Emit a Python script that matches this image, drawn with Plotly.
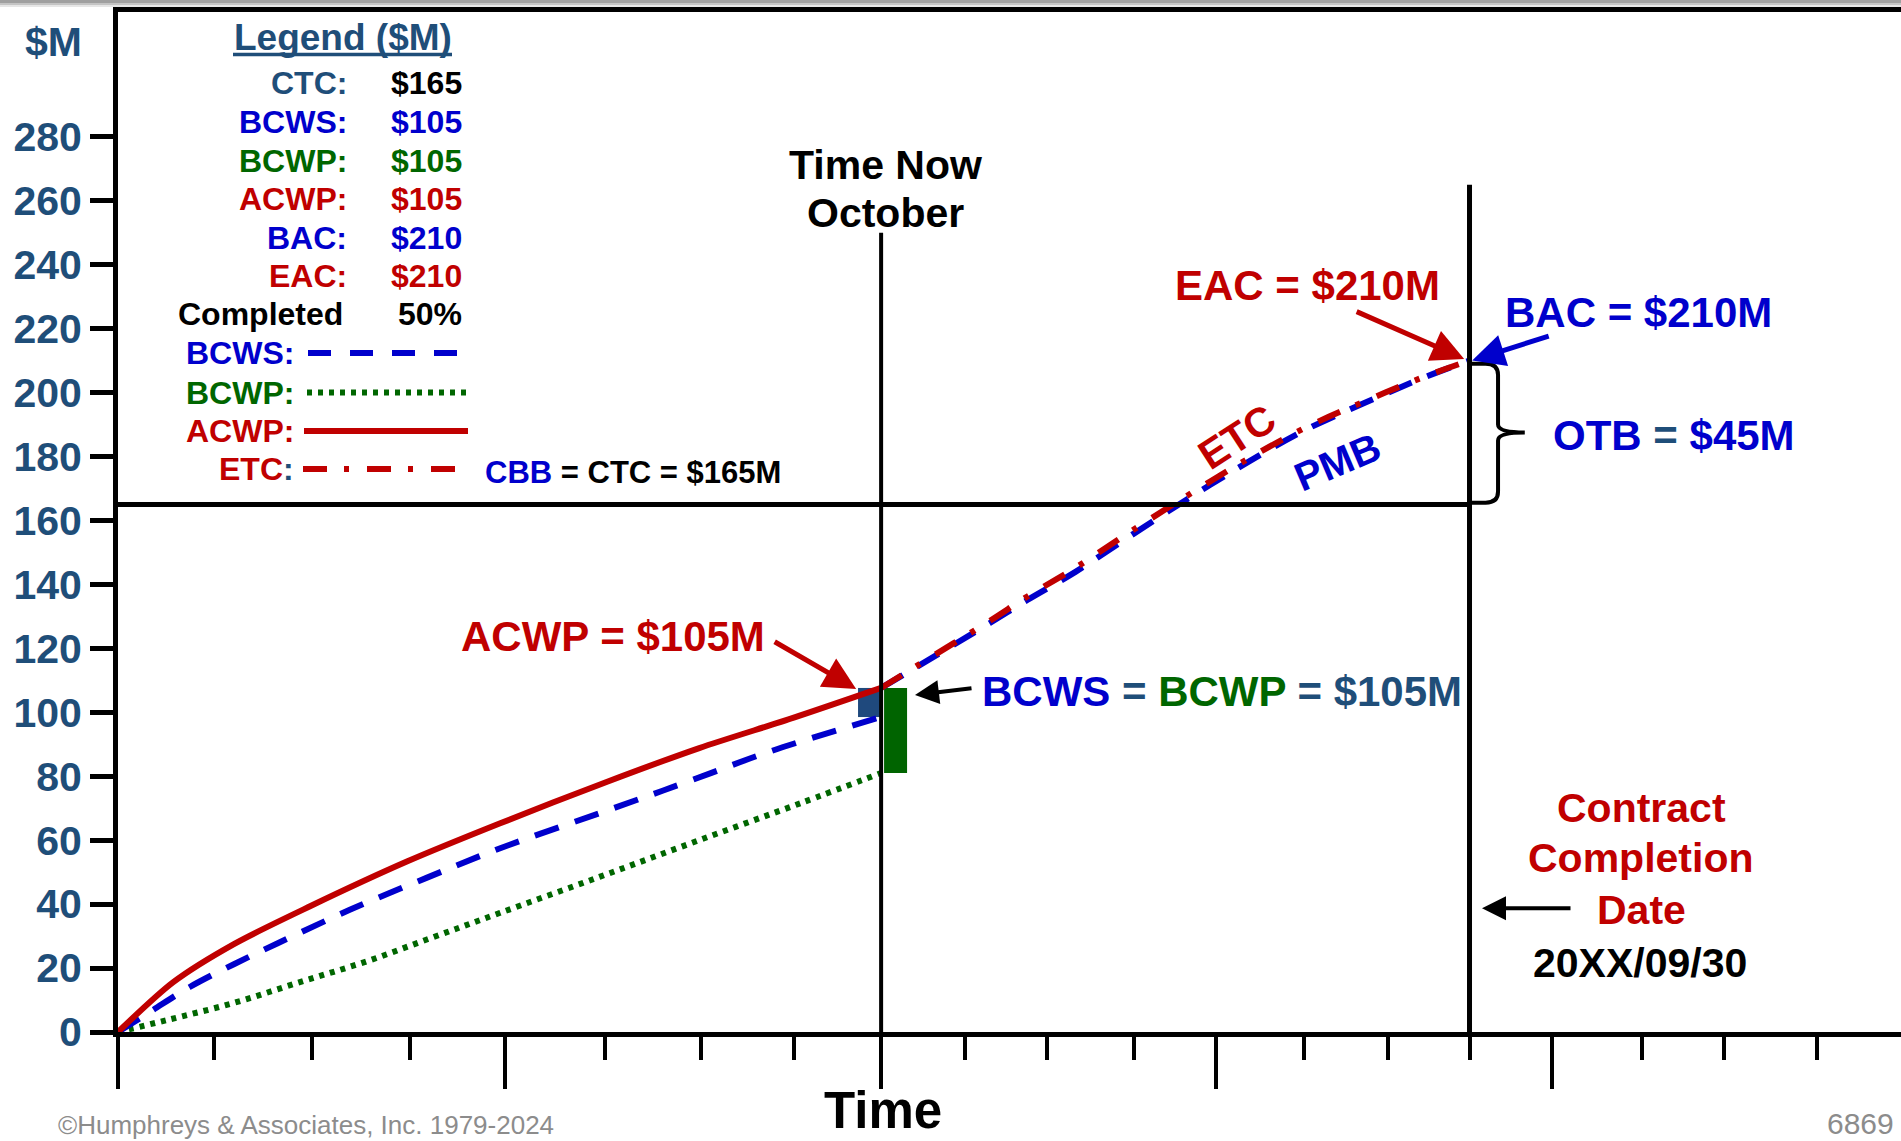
import plotly.graph_objects as go

# ---------------- data ----------------
y_ticks = [0, 20, 40, 60, 80, 100, 120, 140, 160, 180, 200, 220, 240, 260, 280]
time_major_ticks = [0, 21.7, 42.8, 61.6, 80.4]
time_minor_ticks = [5.4, 10.9, 16.4, 27.3, 32.7, 37.9, 47.5, 52.1, 57.0,
                    66.5, 71.2, 75.8, 85.5, 90.1, 95.3]
time_now = 42.8
contract_end = 75.8

acwp_t = [0, 3.1, 6.5, 10.8, 16.2, 21.4, 27.4, 32.6, 37.9, 42.8]
acwp_v = [0, 15.6, 27.5, 39.4, 53.3, 65.2, 78.2, 88.8, 98.3, 107.6]

bcws_t = [0, 1.8, 4.0, 6.5, 8.9, 13.0, 17.3, 21.4, 27.8, 32.1, 36.6, 42.8]
bcws_v = [0, 6.3, 14.0, 21.2, 27.6, 38.2, 48.2, 57.4, 70.0, 78.6, 87.8, 98.5]

bcwp_t = [0, 2.8, 6.5, 10.2, 14.0, 17.7, 21.4, 27.0, 32.6, 38.3, 42.8]
bcwp_v = [0, 3.8, 9.1, 15.6, 22.2, 29.7, 37.2, 48.5, 60.0, 71.6, 81.0]

fc_t = [42.8, 44.8, 48.9, 51.0, 53.7, 56.6, 59.9, 63.3, 66.6, 69.9, 73.3, 75.8]
pmb_v = [107.6, 114.2, 127.9, 135.1, 143.9, 154.5, 166.4, 178.0, 188.3, 196.7, 204.8, 210]
etc_v = [107.6, 114.5, 128.6, 136.2, 145.2, 155.8, 167.5, 179.0, 189.0, 197.2, 205.0, 210]

cbb = 165
bac = 210
eac = 210

legend_labels = ["CTC:", "BCWS:", "BCWP:", "ACWP:", "BAC:", "EAC:"]
legend_values = ["$165", "$105", "$105", "$105", "$210", "$210"]
completed_pct = "50%"

# ---------------- styles ----------------
FONT = "Liberation Sans, Arial, sans-serif"
STEEL = "#1F4E79"
BOX_BLUE = "#1F497D"
BLUE = "#0000CC"
GREEN = "#006600"
BOX_GREEN = "#006400"
RED = "#C00000"
BLACK = "#000000"
legend_label_colors = [STEEL, BLUE, GREEN, RED, BLUE, RED]
legend_value_colors = [BLACK, BLUE, GREEN, RED, BLUE, RED]

W, H = 1901, 1141
ML, MR, MT, MB = 118, 0, 12, 109
PW, PH = W - ML - MR, H - MT - MB


def P(px, py):
    """pixel position on the page -> paper coordinates"""
    return (px - ML) / PW, (H - MB - py) / PH


fig = go.Figure()

# curves
fig.add_trace(go.Scatter(x=bcwp_t, y=bcwp_v, mode="lines", line_shape="spline",
                         line=dict(color=GREEN, width=6, dash="5px,6px")))
fig.add_trace(go.Scatter(x=bcws_t, y=bcws_v, mode="lines", line_shape="spline",
                         line=dict(color=BLUE, width=6, dash="25px,17px")))
fig.add_trace(go.Scatter(x=acwp_t, y=acwp_v, mode="lines", line_shape="spline",
                         line=dict(color=RED, width=6, smoothing=0.8)))
fig.add_trace(go.Scatter(x=fc_t, y=pmb_v, mode="lines", line_shape="spline",
                         line=dict(color=BLUE, width=6, dash="25px,17px")))
fig.add_trace(go.Scatter(x=fc_t, y=etc_v, mode="lines", line_shape="spline",
                         line=dict(color=RED, width=6, dash="24px,17px,5px,18px")))

# variance boxes at time now
acwp_end = acwp_v[-1]
fig.add_trace(go.Bar(x=[time_now - 0.68], y=[acwp_end - bcws_v[-1]], base=[bcws_v[-1]],
                     width=[1.23], marker=dict(color=BOX_BLUE, line=dict(width=0))))
fig.add_trace(go.Bar(x=[time_now + 0.81], y=[acwp_end - bcwp_v[-1]], base=[bcwp_v[-1]],
                     width=[1.29], marker=dict(color=BOX_GREEN, line=dict(width=0))))

shapes = []
# time now and contract completion lines
shapes.append(dict(type="line", xref="x", yref="y", x0=time_now, x1=time_now, y0=0, y1=250,
                   line=dict(color=BLACK, width=4)))
shapes.append(dict(type="line", xref="x", yref="y", x0=contract_end, x1=contract_end, y0=0, y1=265,
                   line=dict(color=BLACK, width=5)))
# CBB line
shapes.append(dict(type="line", xref="x", yref="y", x0=0, x1=contract_end, y0=cbb, y1=cbb,
                   line=dict(color=BLACK, width=5)))
# OTB brace
x0 = contract_end
xv = contract_end + 1.6
xt = contract_end + 3.1
mid = (bac + cbb) / 2
brace = (f"M {x0},{bac - 1} L {x0 + 0.9},{bac - 1} Q {xv},{bac - 1} {xv},{bac - 4.5} "
         f"L {xv},{mid + 2.5} Q {xv},{mid} {xt},{mid} Q {xv},{mid} {xv},{mid - 2.5} "
         f"L {xv},{cbb + 4} Q {xv},{cbb + 0.5} {x0 + 0.9},{cbb + 0.5} L {x0},{cbb + 0.5}")
shapes.append(dict(type="path", xref="x", yref="y", path=brace,
                   line=dict(color=BLACK, width=4)))

# top shadow band
for (a, b, c) in [(0, 3, "#A0A0A0"), (3, 5, "#C4C4C4"), (5, 7, "#E6E6E6")]:
    xa, ya = P(0, a)
    xb, yb = P(W, b)
    shapes.append(dict(type="rect", xref="paper", yref="paper", x0=xa, x1=xb, y0=yb, y1=ya,
                       fillcolor=c, line=dict(width=0), layer="below"))


# legend underline and line samples
def pline(px0, px1, py, color, width, dash="solid"):
    a = P(px0, py)
    b = P(px1, py)
    shapes.append(dict(type="line", xref="paper", yref="paper", x0=a[0], x1=b[0], y0=a[1], y1=b[1],
                       line=dict(color=color, width=width, dash=dash)))


pline(233, 452, 54.5, STEEL, 3.5)
pline(308, 458, 353, BLUE, 6, "23px,19px")
pline(307, 468, 392.5, GREEN, 6, "5px,6px")
pline(304, 468, 431, RED, 6)
pline(303, 460, 469, RED, 6, "24px,17px,5px,18px")

annotations = []


def label(text, px, py, size, color=BLACK, xanchor="center", angle=0, bold=True):
    x, y = P(px, py)
    t = f"<b>{text}</b>" if bold else text
    annotations.append(dict(text=t, x=x, y=y, xref="paper", yref="paper", showarrow=False,
                            xanchor=xanchor, yanchor="middle", textangle=angle, borderpad=0,
                            font=dict(family=FONT, size=size, color=color)))


def arrow(x, y, ax, ay, color, width, size=1.1):
    annotations.append(dict(text="", x=x, y=y, xref="x", yref="y", ax=ax, ay=ay,
                            showarrow=True, arrowhead=2, arrowsize=size, arrowwidth=width,
                            arrowcolor=color, standoff=0))


def span(t, c):
    return f'<span style="color:{c}">{t}</span>'


# axis unit
label("$M", 53, 42, 41, STEEL)
# legend block
label("Legend ($M)", 342.5, 37, 37, STEEL)
row_y = [83, 122.5, 161, 199, 237.5, 276]
for lab, val, lc, vc, ry in zip(legend_labels, legend_values, legend_label_colors,
                                legend_value_colors, row_y):
    label(lab, 348, ry, 32, lc, xanchor="right")
    label(val, 463, ry, 32, vc, xanchor="right")
label("Completed", 177, 314, 32, BLACK, xanchor="left")
label(completed_pct, 463, 314, 32, BLACK, xanchor="right")
label("BCWS:", 295, 353, 32, BLUE, xanchor="right")
label("BCWP:", 295, 392.5, 32, GREEN, xanchor="right")
label("ACWP:", 295, 431, 32, RED, xanchor="right")
label(span("ETC", RED) + span(":", STEEL), 295, 469, 32, RED, xanchor="right")
label(span("CBB", BLUE) + " = CTC = $" + str(cbb) + "M", 484, 472.5, 31, BLACK, xanchor="left")

# chart callouts
label("Time Now", 885.5, 165, 41)
label("October", 885, 213, 41)
label(f"EAC = ${eac}M", 1307, 285, 42, RED)
label(f"BAC = ${bac}M", 1638.5, 313, 42, BLUE)
label(span("OTB", BLUE) + span(" = ", STEEL) + span(f"${bac - cbb}M", BLUE), 1674, 436, 42, BLUE)
label("ACWP = $105M", 612.5, 636, 42, RED)
label(span("BCWS", BLUE) + span(" = ", STEEL) + span("BCWP", GREEN) + span(" = $105M", STEEL),
      1221.5, 691, 42, STEEL)
label("ETC", 1237, 437, 41, RED, angle=-33)
label("PMB", 1337, 462, 40, BLUE, angle=-23)
label("Contract", 1641, 808, 41, RED)
label("Completion", 1640, 858, 41, RED)
label("Date", 1641, 910, 41, RED)
label("20XX/09/30", 1640, 962.5, 41, BLACK)
label("Time", 883, 1110, 51)
label("©Humphreys &amp; Associates, Inc. 1979-2024", 57, 1125, 26, "#8C8C8C", xanchor="left", bold=False)
label("6869", 1895, 1123, 30, "#8C8C8C", xanchor="right", bold=False)

# arrows
arrow(75.5, 210.5, -109, -48, RED, 5, 1.3)
arrow(75.95, 210, 78, -25, BLUE, 5, 1.3)
arrow(41.4, 107.3, -83, -48, RED, 5, 1.3)
arrow(44.7, 105.4, 58, -7, BLACK, 4, 1.2)
arrow(76.5, 38.7, 90, 0, BLACK, 4, 1.2)

fig.update_layout(
    width=W, height=H, autosize=False,
    margin=dict(l=ML, r=MR, t=MT, b=MB, pad=0, autoexpand=False),
    paper_bgcolor="white", plot_bgcolor="white",
    showlegend=False, barmode="overlay",
    shapes=shapes, annotations=annotations,
    xaxis=dict(range=[0, 100], showgrid=False, zeroline=False, automargin=False,
               showline=True, linecolor=BLACK, linewidth=5, mirror=True,
               tickmode="array", tickvals=time_major_ticks, ticks="outside",
               ticklen=52, tickwidth=4, tickcolor=BLACK, showticklabels=False,
               minor=dict(tickmode="array", tickvals=time_minor_ticks, ticks="outside",
                          ticklen=23, tickwidth=4, tickcolor=BLACK, showgrid=False)),
    yaxis=dict(range=[0, 319], showgrid=False, zeroline=False, automargin=False,
               showline=True, linecolor=BLACK, linewidth=5,
               tickmode="array", tickvals=y_ticks, ticks="outside",
               ticklen=23, tickwidth=5, tickcolor=BLACK,
               tickfont=dict(family=FONT, size=41, color=STEEL, weight="bold")),
)

fig.write_html("out.html", config={"displayModeBar": False},
               post_script="document.body.style.margin='0';document.body.style.overflow='hidden';")
